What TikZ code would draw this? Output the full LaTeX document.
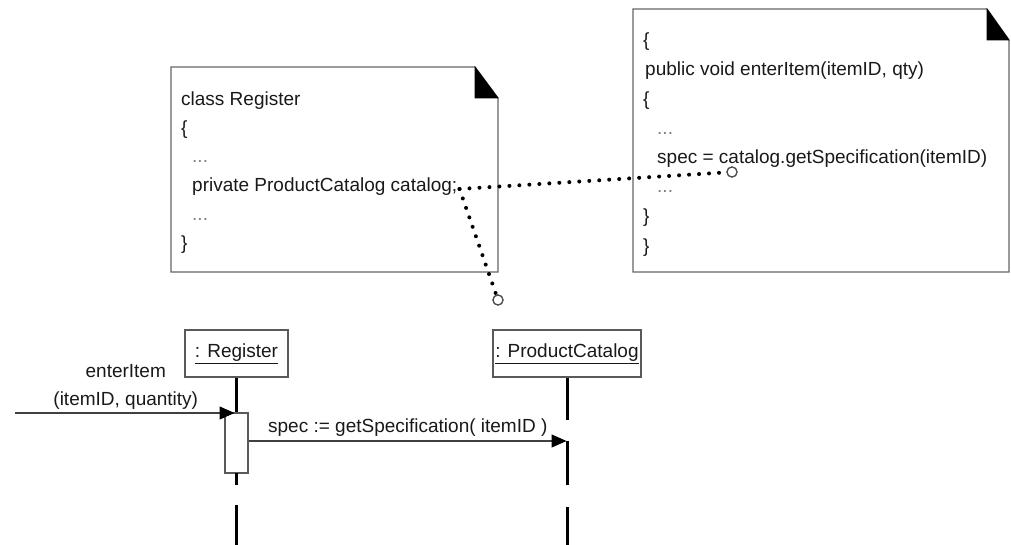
\documentclass[tikz,border=0pt]{standalone}
\usepackage{fontspec}
\setmainfont{Liberation Sans}
\usetikzlibrary{arrows.meta}
\begin{document}
\begin{tikzpicture}[x=1pt, y=-1pt,
  font=\fontsize{19}{22}\selectfont,
  notebox/.style={draw=black!60, line width=1.3pt, line join=miter},
  dogear/.style={fill=black, draw=black, line width=0.6pt},
  codeline/.style={anchor=base west, inner sep=0pt, text=black!90},
  elide/.style={codeline, text=black!50},
  lifebox/.style={draw=black!65, line width=1.3pt, fill=white, minimum height=47pt, inner sep=0pt, text=black!90},
  actbox/.style={draw=black!65, line width=1.2pt, fill=white, minimum width=23pt, minimum height=60pt, inner sep=0pt},
  life/.style={line width=3pt},
  msg/.style={line width=1.1pt, draw=black!75, -{Triangle[length=15pt, width=13pt, color=black, fill=black]}},
  msglabel/.style={midway, anchor=base, inner sep=0pt, text=black!90},
  dotlink/.style={line width=4pt, line cap=round, dash pattern=on 0pt off 10pt},
  ring/.style={circle, draw=black!70, fill=white, line width=1.2pt, minimum size=10pt, inner sep=0pt}
]
\useasboundingbox (0,0) rectangle (1011,545);

% ---- note: class Register ----
\draw[notebox] (171,67) -- (475,67) -- (498,98) -- (498,272) -- (171,272) -- cycle;
\filldraw[dogear] (475,67) -- (475,98) -- (498,98) -- cycle;
\node[codeline] (r1) at (181,106) {class Register};
\node[codeline] (r2) at (181,135) {\{};
\node[elide]    (r3) at (192,163) {...};
\node[codeline] (catfield) at (192,192) {private ProductCatalog catalog;};
\node[elide]    (r5) at (192,221) {...};
\node[codeline] (r6) at (181,250) {\}};

% ---- note: enterItem body ----
\draw[notebox] (633,9) -- (987,9) -- (1009,40) -- (1009,272) -- (633,272) -- cycle;
\filldraw[dogear] (987,9) -- (987,40) -- (1009,40) -- cycle;
\node[codeline] (e1) at (643,47) {\{};
\node[codeline] (e2) at (645,76) {public void enterItem(itemID, qty)};
\node[codeline] (e3) at (643,106) {\{};
\node[elide]    (e4) at (657,135) {...};
\node[codeline] (specline) at (657,164) {spec = catalog.getSpecification(itemID)};
\node[elide]    (e6) at (657,193) {...};
\node[codeline] (e7) at (643,223) {\}};
\node[codeline] (e8) at (643,252) {\}};

% ---- dotted links from the field to its uses ----
\coordinate (catref) at ([xshift=2pt, yshift=3pt]catfield.base east);
\node[ring] (ringA) at (732,172) {};
\node[ring] (ringB) at (498,300) {};
\draw[dotlink] (catref) -- (ringA);
\draw[dotlink] (catref) -- (ringB);
\node[ring] at (ringA) {};
\node[ring] at (ringB) {};

% ---- lifelines ----
\node[lifebox, minimum width=103pt] (reg) at (236.5,353.5) {\underline{: Register}};
\node[lifebox, minimum width=148pt] (pc) at (567,353.5) {\underline{: ProductCatalog}};
\node[actbox] (act) at (236.5,443) {};

\draw[life] (reg.south) -- (act.north);
\coordinate (r-a) at (236.5,473);
\coordinate (r-b) at (236.5,485);
\coordinate (r-c) at (236.5,505);
\coordinate (r-d) at (236.5,545);
\draw[life] (r-a) -- (r-b);
\draw[life] (r-c) -- (r-d);

\coordinate (p-a) at (567,420);
\coordinate (p-b) at (567,441);
\coordinate (p-c) at (567,485);
\coordinate (p-d) at (567,507);
\coordinate (p-e) at (567,545);
\draw[life] (pc.south) -- (p-a);
\draw[life] (p-b) -- (p-c);
\draw[life] (p-d) -- (p-e);

% ---- messages ----
\coordinate (caller) at (15,413);
\draw[msg, shorten >=2pt] (caller) -- (caller -| act.center)
  node[msglabel, yshift=8pt] {(itemID, quantity)}
  node[msglabel, yshift=36pt] {enterItem};
\draw[msg, shorten >=0.5pt] (act.east |- p-b) -- (p-b)
  node[msglabel, yshift=9pt] {spec := getSpecification( itemID )};
\end{tikzpicture}
\end{document}
